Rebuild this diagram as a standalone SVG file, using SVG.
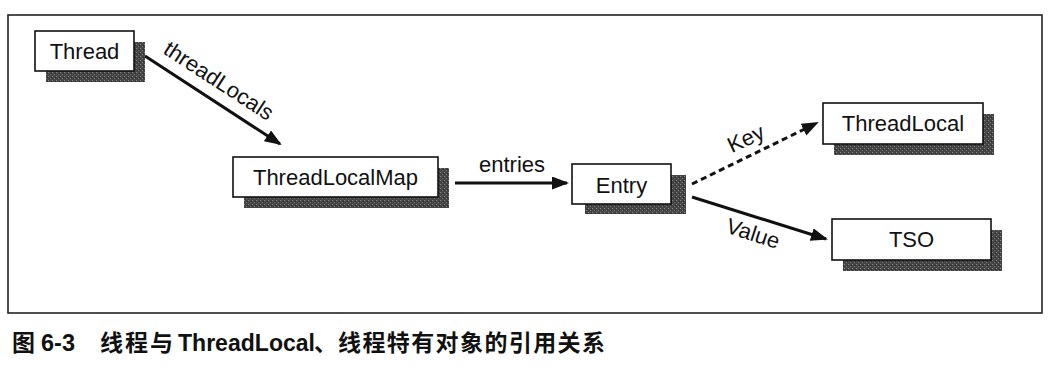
<svg xmlns="http://www.w3.org/2000/svg" width="1049" height="368" viewBox="0 0 1049 368">
  <style>
    .frame { fill: none; stroke: #222; stroke-width: 1.6; }
    .box { fill: #fff; stroke: #111; stroke-width: 1.6; }
    .shadow { fill: url(#stipple); }
    .label { font-family: "Liberation Sans", Arial, sans-serif; font-size: 22px; fill: #111; text-anchor: middle; }
    .edge { fill: none; stroke: #111; stroke-width: 3; marker-end: url(#head); }
    .dashed { stroke-dasharray: 6 4; }
    .caption { font-family: "Liberation Sans", "Noto Sans CJK SC", sans-serif; font-size: 23px; font-weight: bold; fill: #111; }
  </style>
  <defs>
    <pattern id="stipple" width="4" height="4" patternUnits="userSpaceOnUse">
      <rect width="4" height="4" fill="#454545"/>
      <rect x="0" y="0" width="1" height="1" fill="#8c8c8c"/>
      <rect x="2" y="2" width="1" height="1" fill="#7a7a7a"/>
      <rect x="3" y="1" width="1" height="1" fill="#2a2a2a"/>
    </pattern>
    <marker id="head" markerUnits="userSpaceOnUse" markerWidth="18" markerHeight="14" refX="15" refY="6.5" orient="auto">
      <path d="M0,0 L17,6.5 L0,13 z" fill="#111"/>
    </marker>
  </defs>

  <rect width="1049" height="368" fill="#fff"/>
  <rect class="frame" x="8" y="15" width="1034" height="298"/>

  <!-- nodes: shadow first, then box, then name -->
  <g id="node-thread">
    <rect class="shadow" x="46" y="42" width="99" height="40"/>
    <rect class="box" x="35" y="31" width="99" height="40"/>
    <text class="label" x="84.5" y="59">Thread</text>
  </g>
  <g id="node-threadlocalmap">
    <rect class="shadow" x="244" y="168" width="205" height="40"/>
    <rect class="box" x="233" y="157" width="205" height="40"/>
    <text class="label" x="335.5" y="185">ThreadLocalMap</text>
  </g>
  <g id="node-entry">
    <rect class="shadow" x="585" y="175" width="101" height="39"/>
    <rect class="box" x="572" y="164" width="99" height="40"/>
    <text class="label" x="621.5" y="193">Entry</text>
  </g>
  <g id="node-threadlocal">
    <rect class="shadow" x="834" y="114" width="160" height="41"/>
    <rect class="box" x="823" y="103" width="160" height="41"/>
    <text class="label" x="903" y="131">ThreadLocal</text>
  </g>
  <g id="node-tso">
    <rect class="shadow" x="843" y="230" width="159" height="41"/>
    <rect class="box" x="832" y="219" width="159" height="41"/>
    <text class="label" x="911.5" y="247">TSO</text>
  </g>

  <!-- connectors and their labels -->
  <g id="connectors">
    <line class="edge" x1="145" y1="56" x2="280" y2="144"/>
    <g transform="translate(218,82) rotate(33)">
      <text class="label" x="0" y="6">threadLocals</text>
    </g>

    <line class="edge" x1="455" y1="183" x2="567" y2="183"/>
    <text class="label" x="512" y="172">entries</text>

    <line class="edge dashed" x1="692" y1="184" x2="817" y2="123"/>
    <g transform="translate(746,139) rotate(-25)">
      <text class="label" x="0" y="7">Key</text>
    </g>

    <line class="edge" x1="692" y1="197" x2="826" y2="239"/>
    <g transform="translate(753,234) rotate(18)">
      <text class="label" x="0" y="7">Value</text>
    </g>
  </g>

  <!-- figure caption -->
  <g id="caption">
    <text class="caption" x="12" y="351">图</text>
    <text class="caption" x="41" y="351" textLength="34" lengthAdjust="spacingAndGlyphs">6-3</text>
    <text class="caption" x="100" y="351" textLength="73">线程与</text>
    <text class="caption" x="178" y="351" textLength="137" lengthAdjust="spacingAndGlyphs">ThreadLocal</text>
    <text class="caption" x="314" y="351">、</text>
    <text class="caption" x="338" y="351" textLength="267">线程特有对象的引用关系</text>
  </g>
</svg>
